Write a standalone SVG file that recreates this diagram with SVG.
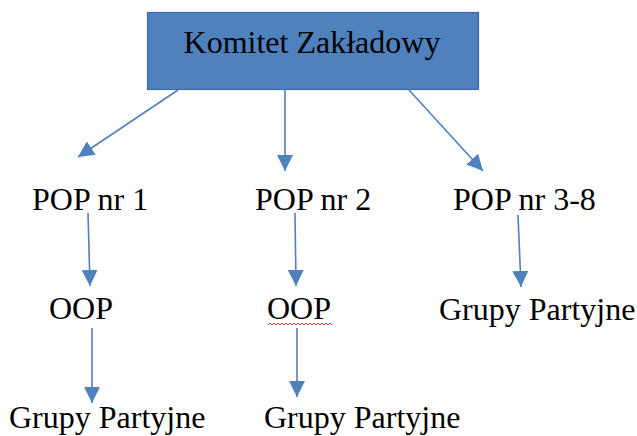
<svg xmlns="http://www.w3.org/2000/svg" width="637" height="436" viewBox="0 0 637 436">
<style>
text{font-family:'Liberation Serif','Times New Roman',Times,serif;font-size:32px;fill:#000}
.conn{stroke:#4F81BD;stroke-width:1.6;fill:none;marker-end:url(#ah)}
</style>
<defs>
<marker id="ah" markerUnits="userSpaceOnUse" markerWidth="17" markerHeight="16" refX="16" refY="8" orient="auto" viewBox="0 0 17 16">
<path d="M0,0 L16,8 L0,16 z" fill="#4F81BD"/>
</marker>
</defs>
<rect width="637" height="436" fill="#fff"/>
<g font-family="Liberation Serif, Times New Roman, serif" font-size="32">
<g id="komitet">
<rect x="147.5" y="12.5" width="331" height="77" fill="#4F81BD" stroke="#3F6DA3" stroke-width="1.2"/>
<text font-family="Liberation Serif, serif" x="312" y="53" text-anchor="middle">Komitet Zakładowy</text>
</g>
<g id="pop1"><text font-family="Liberation Serif, serif" x="32" y="210">POP nr 1</text></g>
<g id="pop2"><text font-family="Liberation Serif, serif" x="255" y="210">POP nr 2</text></g>
<g id="pop38"><text font-family="Liberation Serif, serif" x="453" y="210">POP nr 3-8</text></g>
<g id="oop1"><text font-family="Liberation Serif, serif" x="49" y="319">OOP</text></g>
<g id="oop2"><text font-family="Liberation Serif, serif" x="267" y="319">OOP</text>
<path d="M268,325 l2,-2 l2,2 l2,-2 l2,2 l2,-2 l2,2 l2,-2 l2,2 l2,-2 l2,2 l2,-2 l2,2 l2,-2 l2,2 l2,-2 l2,2 l2,-2 l2,2 l2,-2 l2,2 l2,-2 l2,2 l2,-2 l2,2 l2,-2 l2,2 l2,-2 l2,2 l2,-2 l2,2 l2,-2 l2,2" fill="none" stroke="#FF3B3B" stroke-width="1"/>
</g>
<g id="gp3"><text font-family="Liberation Serif, serif" x="439" y="320">Grupy Partyjne</text></g>
<g id="gp1"><text font-family="Liberation Serif, serif" x="9" y="428">Grupy Partyjne</text></g>
<g id="gp2"><text font-family="Liberation Serif, serif" x="264" y="428">Grupy Partyjne</text></g>
</g>
<g id="connectors">
<line class="conn" x1="178" y1="90" x2="78" y2="157"/>
<line class="conn" x1="285" y1="90" x2="285" y2="171"/>
<line class="conn" x1="409" y1="90" x2="483" y2="171"/>
<line class="conn" x1="88" y1="213" x2="90" y2="286"/>
<line class="conn" x1="295" y1="213" x2="296" y2="286"/>
<line class="conn" x1="518" y1="215" x2="521" y2="287"/>
<line class="conn" x1="92" y1="328" x2="92" y2="403"/>
<line class="conn" x1="297" y1="328" x2="297" y2="397"/>
</g>
</svg>
